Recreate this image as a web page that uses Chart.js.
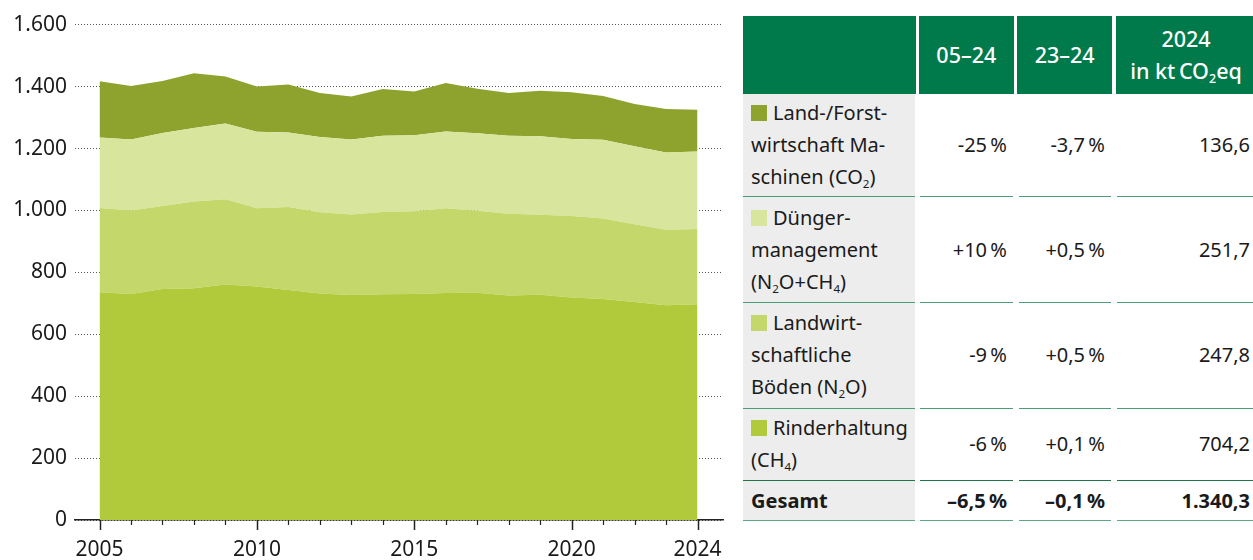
<!DOCTYPE html>
<html lang="de">
<head>
<meta charset="utf-8">
<script src="https://cdn.jsdelivr.net/npm/chart.js@4.4.1/dist/chart.umd.min.js"></script>
<style>
  html, body { margin:0; padding:0; background:#fff; }
  body { width:1253px; height:560px; overflow:hidden; position:relative; font-family:"Noto Sans", sans-serif; color:#1a1a1a; }
  #chartWrap { position:absolute; left:0; top:0; width:740px; height:560px; }
  .cell { position:absolute; box-sizing:border-box; display:flex; align-items:center; font-size:20px; line-height:32px; }
  .hdr { background:#007a4a; color:#fff; justify-content:center; text-align:center; font-size:21.5px; font-weight:500; }
  .lab { background:#ededed; padding-left:8px; }
  .num { justify-content:flex-end; padding-right:6px; white-space:nowrap; }
  .line { position:absolute; height:1.5px; }
  .sq { display:inline-block; width:16px; height:16px; margin-right:6px; vertical-align:-1px; }
  sub { font-size:0.58em; vertical-align:-0.32em; line-height:0; }
  .bold { font-weight:700; }
</style>
</head>
<body>
<div id="chartWrap"><canvas id="c" width="740" height="560"></canvas></div>
<div id="table"></div>
<script>
// ---------- data ----------
const years = [2005,2006,2007,2008,2009,2010,2011,2012,2013,2014,2015,2016,2017,2018,2019,2020,2021,2022,2023,2024];
const labelYears = [2005, 2010, 2015, 2020, 2024];
const rinderhaltung = [736,730,746,749,761,754,743,732,727,729,730,733,734,725,728,719,714,704,694,697];
const boeden        = [272,270,268,280,275,253,268,262,260,266,267,274,265,264,258,263,260,251,244,243];
const duenger       = [228,229,236,237,245,247,241,243,242,246,246,248,250,252,254,249,254,252,249,250];
const maschinen     = [181,173,168,177,152,146,155,142,139,151,141,157,144,138,147,151,142,137,141,135];
const yTicks = [0,200,400,600,800,1000,1200,1400,1600];
const yTickLabels = ['0','200','400','600','800','1.000','1.200','1.400','1.600'];

// table data
const headerLabels = ['', '05–24', '23–24', '2024<br>in kt\u2009CO<sub>2</sub>eq'];
const rowLabels = [
  'Land-/Forst-<br>wirtschaft Ma-<br>schinen (CO<sub>2</sub>)',
  'Dünger-<br>management<br>(N<sub>2</sub>O+CH<sub>4</sub>)',
  'Landwirt-<br>schaftliche<br>Böden (N<sub>2</sub>O)',
  'Rinderhaltung<br>(CH<sub>4</sub>)',
  'Gesamt'
];
const change0524 = ['-25\u2009%', '+10\u2009%', '-9\u2009%', '-6\u2009%', '–6,5\u2009%'];
const change2324 = ['-3,7\u2009%', '+0,5\u2009%', '+0,5\u2009%', '+0,1\u2009%', '–0,1\u2009%'];
const value2024  = ['136,6', '251,7', '247,8', '704,2', '1.340,3'];

// ---------- styles / layout ----------
const colors = { maschinen:'#8ea22e', duenger:'#d8e59d', boeden:'#c4d76a', rinder:'#b1ca3b' };
const legendColors = [colors.maschinen, colors.duenger, colors.boeden, colors.rinder, null];

const toXY = arr => years.map((yr, i) => ({ x: yr, y: arr[i] }));

const yearTicks = {
  id: 'yearTicks',
  afterDraw(chart) {
    const xs = chart.scales.x, ctx = chart.ctx, b = chart.chartArea.bottom;
    ctx.save();
    ctx.strokeStyle = '#222';
    years.forEach(yr => {
      const px = Math.round(xs.getPixelForValue(yr)) + 0.5;
      const major = labelYears.includes(yr);
      ctx.lineWidth = major ? 1.5 : 1.2;
      ctx.beginPath();
      ctx.moveTo(px, b);
      ctx.lineTo(px, b + (major ? 10 : 5));
      ctx.stroke();
    });
    ctx.restore();
  }
};

new Chart(document.getElementById('c'), {
  type: 'line',
  data: {
    datasets: [
      { label: 'Rinderhaltung (CH4)', data: toXY(rinderhaltung), backgroundColor: colors.rinder, fill: 'origin' },
      { label: 'Landwirtschaftliche Böden (N2O)', data: toXY(boeden), backgroundColor: colors.boeden, fill: '-1' },
      { label: 'Düngermanagement (N2O+CH4)', data: toXY(duenger), backgroundColor: colors.duenger, fill: '-1' },
      { label: 'Land-/Forstwirtschaft Maschinen (CO2)', data: toXY(maschinen), backgroundColor: colors.maschinen, fill: '-1' }
    ]
  },
  options: {
    responsive: false,
    animation: false,
    devicePixelRatio: 1,
    layout: { padding: { top: 24.7, right: 17, left: 0, bottom: 0 } },
    elements: { line: { borderWidth: 0, tension: 0 }, point: { radius: 0 } },
    plugins: { legend: { display: false }, tooltip: { enabled: false } },
    scales: {
      x: {
        type: 'linear', min: 2004.22, max: 2024.81, position: 'bottom', z: 1,
        afterBuildTicks: s => { s.ticks = years.map(v => ({ value: v })); },
        afterFit: s => { s.height = 40; },
        ticks: {
          autoSkip: false, maxRotation: 0, padding: 17, color: '#1a1a1a',
          font: { family: 'Noto Sans', size: 21 },
          callback: v => labelYears.includes(v) ? String(v) : ''
        },
        grid: { display: true, drawOnChartArea: false, drawTicks: false },
        border: { display: true, color: '#222', width: 1.5 }
      },
      y: {
        stacked: true, min: 0, max: 1600,
        afterBuildTicks: s => { s.ticks = yTicks.map(v => ({ value: v })); },
        afterFit: s => { s.width = 75; },
        ticks: {
          padding: 8, color: '#1a1a1a',
          font: { family: 'Noto Sans', size: 21 },
          callback: v => yTickLabels[yTicks.indexOf(v)]
        },
        grid: { color: '#555', lineWidth: 1, drawTicks: false },
        border: { display: false, dash: [1, 2] }
      }
    }
  },
  plugins: [yearTicks]
});

// ---------- table ----------
const tbl = document.getElementById('table');
const hdrCols = [[743, 916], [918.7, 1014], [1017, 1112.3], [1116, 1256]];
const bodyCols = [[743, 915], [920, 1013], [1018.5, 1111], [1117, 1256]];
const rowEdges = [15.7, 94, 196.7, 302.7, 408.3, 480.7, 520.5];
const lineColors = ['#4a9e78', '#4a9e78', '#4a9e78', '#1f7649', '#5aa886'];

function addCell(cls, l, t, w, h, html, extraStyle) {
  const d = document.createElement('div');
  d.className = 'cell ' + cls;
  d.style.left = l + 'px'; d.style.top = t + 'px';
  d.style.width = w + 'px'; d.style.height = h + 'px';
  if (extraStyle) Object.assign(d.style, extraStyle);
  d.innerHTML = html;
  tbl.appendChild(d);
}
headerLabels.forEach((h, c) => {
  const [l, r] = hdrCols[c];
  addCell('hdr', l, rowEdges[0], r - l, rowEdges[1] - rowEdges[0], '<div>' + h + '</div>');
});
// gray label column background
addCell('lab', bodyCols[0][0], rowEdges[1], bodyCols[0][1] - bodyCols[0][0], rowEdges[6] - rowEdges[1], '');
rowLabels.forEach((lab, i) => {
  const t = rowEdges[i + 1], h = rowEdges[i + 2] - t;
  const bold = i === rowLabels.length - 1 ? ' bold' : '';
  const sq = legendColors[i] ? '<span class="sq" style="background:' + legendColors[i] + '"></span>' : '';
  const [l0, r0] = bodyCols[0];
  addCell('' + bold, l0, t, r0 - l0, h, '<div style="padding-left:8px">' + sq + lab + '</div>');
  const vals = [change0524[i], change2324[i], value2024[i]];
  vals.forEach((v, k) => {
    const [l, r] = bodyCols[k + 1];
    const extra = k === 2 ? { paddingRight: (r - 1250) + 'px' } : null;
    addCell('num' + bold, l, t, r - l, h, v, extra);
  });
  bodyCols.forEach(([l, r]) => {
    const ln = document.createElement('div');
    ln.className = 'line';
    ln.style.left = l + 'px'; ln.style.width = (r - l) + 'px';
    ln.style.top = (rowEdges[i + 2] - 0.75) + 'px';
    ln.style.background = lineColors[i];
    tbl.appendChild(ln);
  });
});
</script>
</body>
</html>
